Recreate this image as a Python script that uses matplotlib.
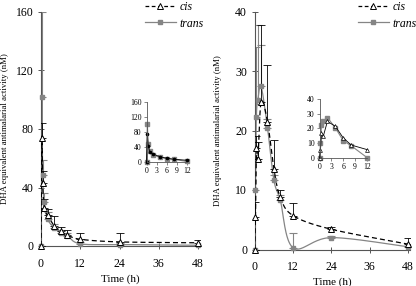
import numpy as np
import matplotlib
matplotlib.use('Agg')
import matplotlib.pyplot as plt
from matplotlib.lines import Line2D

plt.rcParams['font.family'] = ['Liberation Serif', 'DejaVu Serif']

# ---------------- data ----------------
time_h = [0, 0.25, 0.5, 1, 2, 4, 6, 8, 12, 24, 48]

# left panel
left_cis = [0, 74, 43, 26, 21, 14, 10, 7.5, 4.6, 2.8, 2.2]
left_cis_err = [0, 10, 8, 6, 4.5, 6.5, 2.8, 3.5, 4.4, 6.2, 2.1]
left_trans = [0, 102, 48.5, 30, 18.5, 12.5, 9, 7, 1.5, 1.0, 0.5]
left_trans_err = [0, 58, 10, 6, 5, 2.5, 2, 2, 1.5, 1.0, 0.5]

# right panel
right_cis = [0, 5.5, 17, 15.2, 24.8, 21.5, 13.6, 8.8, 5.7, 3.4, 0.9]
right_cis_err = [0, 2.5, 2, 2.8, 12.9, 9.5, 4.8, 1.2, 2.1, 0.3, 1.1]
right_trans = [0, 10, 22.2, 25.1, 27.4, 20.5, 11.7, 8.3, 0.3, 2.0, 0.45]
right_trans_err = [0, 14.5, 11.8, 12.6, 7.0, 1.5, 0.8, 0.9, 2.5, 0.3, 0.15]

x_ticks = [0, 12, 24, 36, 48]
left_yticks = [0, 40, 80, 120, 160]
right_yticks = [0, 10, 20, 30, 40]
inset_xticks = [0, 3, 6, 9, 12]

ylabel = 'DHA equivalent antimalarial activity (nM)'
xlabel = 'Time (h)'

GREY = '#858585'
W, H = 416, 286
fig = plt.figure(figsize=(W / 100, H / 100), dpi=100)


def smooth_curve(xs, ys, sx, sy, n=40):
    """Catmull-Rom style smoothing (like spreadsheet smoothed lines) in pixel space."""
    P = np.column_stack([np.asarray(xs, float) * sx, np.asarray(ys, float) * sy])
    out = [P[0]]
    m = len(P)
    for i in range(m - 1):
        p0 = P[i - 1] if i > 0 else P[i]
        p1 = P[i]
        p2 = P[i + 1]
        p3 = P[i + 2] if i + 2 < m else P[i + 1]
        c1 = p1 + (p2 - p0) / 6.0
        c2 = p2 - (p3 - p1) / 6.0
        t = np.linspace(0, 1, n)[1:, None]
        seg = ((1 - t) ** 3) * p1 + 3 * ((1 - t) ** 2) * t * c1 + 3 * (1 - t) * t ** 2 * c2 + t ** 3 * p2
        out.extend(seg)
    out = np.array(out)
    return out[:, 0] / sx, out[:, 1] / sy


def style_main(ax, yticks, ymax):
    for s in ['top', 'right']:
        ax.spines[s].set_visible(False)
    for s in ['left', 'bottom']:
        ax.spines[s].set_color('#555555')
        ax.spines[s].set_linewidth(0.8)
    ax.set_xlim(0, 48.6)
    ax.set_ylim(0, ymax)
    ax.set_xticks(x_ticks)
    ax.set_yticks(yticks)
    ax.tick_params(direction='inout', length=5, width=0.7, color='#555555',
                   labelsize=8.5, pad=3)
    ax.tick_params(axis='x', pad=6)
    ax.set_xlabel(xlabel, fontsize=8, labelpad=3)
    ax.set_ylabel(ylabel, fontsize=6.3)


def draw_main(ax, cis, cis_err, trans, trans_err, ymax, wpx, hpx):
    sx = wpx / 48.6
    sy = hpx / ymax
    tx, ty = smooth_curve(time_h, trans, sx, sy)
    ax.plot(tx, ty, color=GREY, lw=0.9, zorder=2)
    cx, cy = smooth_curve(time_h, cis, sx, sy)
    ax.plot(cx, cy, color='black', lw=0.9, dashes=(4, 2.5), zorder=3)
    ax.errorbar(time_h, trans, yerr=[np.zeros(len(trans)), trans_err], fmt='none',
                ecolor=GREY, elinewidth=0.8, capsize=3, capthick=0.8, zorder=2)
    ax.errorbar(time_h, cis, yerr=[np.zeros(len(cis)), cis_err], fmt='none',
                ecolor='black', elinewidth=0.6, capsize=3, capthick=0.6, zorder=3)
    ax.plot(time_h, trans, ls='none', marker='s', ms=3.5, mfc=GREY, mec=GREY,
            zorder=4, clip_on=False)
    ax.plot(time_h, cis, ls='none', marker='^', ms=3.8, mfc='white', mec='black',
            mew=0.7, zorder=5, clip_on=False)


def style_inset(ax, yticks):
    for s in ['top', 'right']:
        ax.spines[s].set_visible(False)
    for s in ['left', 'bottom']:
        ax.spines[s].set_color('#555555')
        ax.spines[s].set_linewidth(0.6)
    ax.set_xlim(0, 12)
    ax.set_ylim(0, yticks[-1])
    ax.set_xticks(inset_xticks)
    ax.set_yticks(yticks)
    ax.tick_params(direction='out', length=2, width=0.5, color='#555555',
                   labelsize=5.5, pad=1.5)


# ---------------- left panel ----------------
lx0, lx1, ly0, ly1 = 41, 200, 246, 12
axL = fig.add_axes([lx0 / W, 1 - ly0 / H, (lx1 - lx0) / W, (ly0 - ly1) / H])
draw_main(axL, left_cis, left_cis_err, left_trans, left_trans_err, 160, lx1 - lx0, ly0 - ly1)
style_main(axL, left_yticks, 160)
axL.yaxis.set_label_coords(-0.2, 0.5)

insL = fig.add_axes([146.5 / W, 1 - 162 / H, 40.5 / W, 60 / H])
sel = [i for i, t in enumerate(time_h) if t <= 12]
insL.plot([time_h[i] for i in sel], [left_trans[i] for i in sel], color=GREY, lw=0.8,
          marker='s', ms=2.5, mfc=GREY, mec=GREY, clip_on=False)
insL.plot([time_h[i] for i in sel], [left_cis[i] for i in sel], color='black', lw=0.6,
          marker='o', ms=1.6, mfc='black', mec='black', clip_on=False)
style_inset(insL, left_yticks)

# ---------------- right panel ----------------
rx0, rx1, ry0, ry1 = 254.7, 410, 249.5, 11.5
axR = fig.add_axes([rx0 / W, 1 - ry0 / H, (rx1 - rx0) / W, (ry0 - ry1) / H])
draw_main(axR, right_cis, right_cis_err, right_trans, right_trans_err, 40, rx1 - rx0, ry0 - ry1)
style_main(axR, right_yticks, 40)
axR.yaxis.set_label_coords(-0.21, 0.5)

insR = fig.add_axes([319.5 / W, 1 - 158 / H, 47.5 / W, 59 / H])
insR.plot([time_h[i] for i in sel], [right_trans[i] for i in sel], color=GREY, lw=0.8,
          marker='s', ms=2.5, mfc=GREY, mec=GREY, clip_on=False)
insR.plot([time_h[i] for i in sel], [right_cis[i] for i in sel], color='black', lw=0.6,
          marker='^', ms=2.8, mfc='white', mec='black', mew=0.5, clip_on=False)
style_inset(insR, right_yticks)

# ---------------- legends ----------------
handles = [
    Line2D([], [], color='black', lw=0.9, dashes=(3, 2), marker='^', ms=3.8,
           mfc='white', mec='black', mew=0.7),
    Line2D([], [], color=GREY, lw=0.9, marker='s', ms=3.5, mfc=GREY, mec=GREY),
]
labels = ['cis', 'trans']
for xa in (145 / W, 358 / W):
    fig.legend(handles, labels, loc='upper left', bbox_to_anchor=(xa, 0.997),
               frameon=False, prop={'style': 'italic', 'size': 8.5},
               handlelength=2.6, handletextpad=0.3, labelspacing=0.4,
               borderpad=0, borderaxespad=0)

fig.savefig('out.png', dpi=100)
